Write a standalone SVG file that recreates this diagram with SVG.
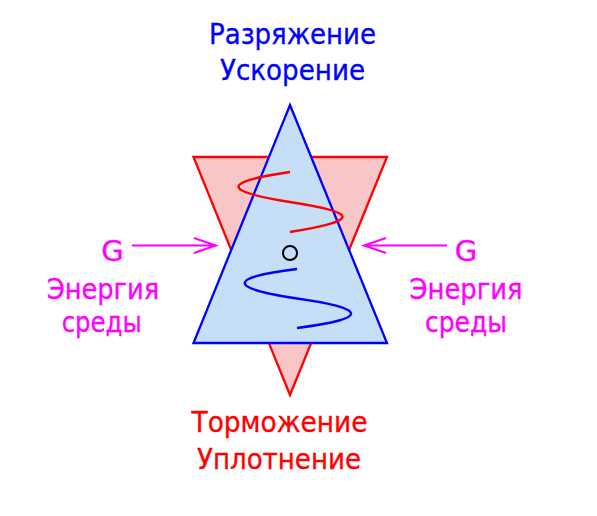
<svg xmlns="http://www.w3.org/2000/svg" width="597" height="516" viewBox="0 0 597 516">
<defs>
<style>
text{font-family:"DejaVu Sans","Liberation Sans",sans-serif;font-size:29px;text-anchor:middle;stroke-width:0.35}
.b{fill:#0000ff;stroke:#0000ff}.r{fill:#ff0000;stroke:#ff0000}.m{fill:#ff00ff;stroke:#ff00ff}
.arr{stroke:#ff00ff;stroke-width:2;fill:none}
.curve{fill:none;stroke-width:2.4}
</style>
</defs>
<rect width="597" height="516" fill="#ffffff"/>
<g id="red-triangle">
<polygon points="193.5,157 387,157 290,395" fill="#f8c6c6" stroke="#ff0000" stroke-width="2.3" stroke-linejoin="miter"/>
</g>
<g id="blue-triangle">
<polygon points="290,105 387,343 193.5,343" fill="#c6def6" stroke="#0000ff" stroke-width="2.3"/>
</g>
<g id="red-wave">
<path class="curve" stroke="#ff0000" d="M290,172 C215,183 228,192 290,202 C355,212 365,220 290,232"/>
</g>
<g id="blue-wave">
<path class="curve" stroke="#0000ff" d="M297,269 C222,278 233,289 297,298.5 C364,308 374,318 297,328"/>
</g>
<g id="center">
<circle cx="290" cy="253" r="7" fill="none" stroke="#000000" stroke-width="2"/>
</g>
<g id="connectors">
<path class="arr" d="M132,245.5 L216,245.5 M194,238 L216,245.5 L194,253"/>
<path class="arr" d="M447,245.5 L364,245.5 M386,238 L364,245.5 L386,253"/>
</g>
<g id="top-label">
<text class="b" x="292.5" y="44" textLength="167" lengthAdjust="spacingAndGlyphs">Разряжение</text>
<text class="b" x="292.5" y="80" textLength="145" lengthAdjust="spacingAndGlyphs">Ускорение</text>
</g>
<g id="bottom-label">
<text class="r" x="279.5" y="432" textLength="176" lengthAdjust="spacingAndGlyphs">Торможение</text>
<text class="r" x="279" y="468.5" textLength="164" lengthAdjust="spacingAndGlyphs">Уплотнение</text>
</g>
<g id="left-label">
<text class="m" x="112.5" y="261">G</text>
<text class="m" x="103" y="298.5" textLength="112.6" lengthAdjust="spacingAndGlyphs">Энергия</text>
<text class="m" x="101.7" y="331.5" textLength="80" lengthAdjust="spacingAndGlyphs">среды</text>
</g>
<g id="right-label">
<text class="m" x="466" y="261">G</text>
<text class="m" x="466" y="298.5" textLength="113" lengthAdjust="spacingAndGlyphs">Энергия</text>
<text class="m" x="466" y="331.5" textLength="82" lengthAdjust="spacingAndGlyphs">среды</text>
</g>
</svg>
